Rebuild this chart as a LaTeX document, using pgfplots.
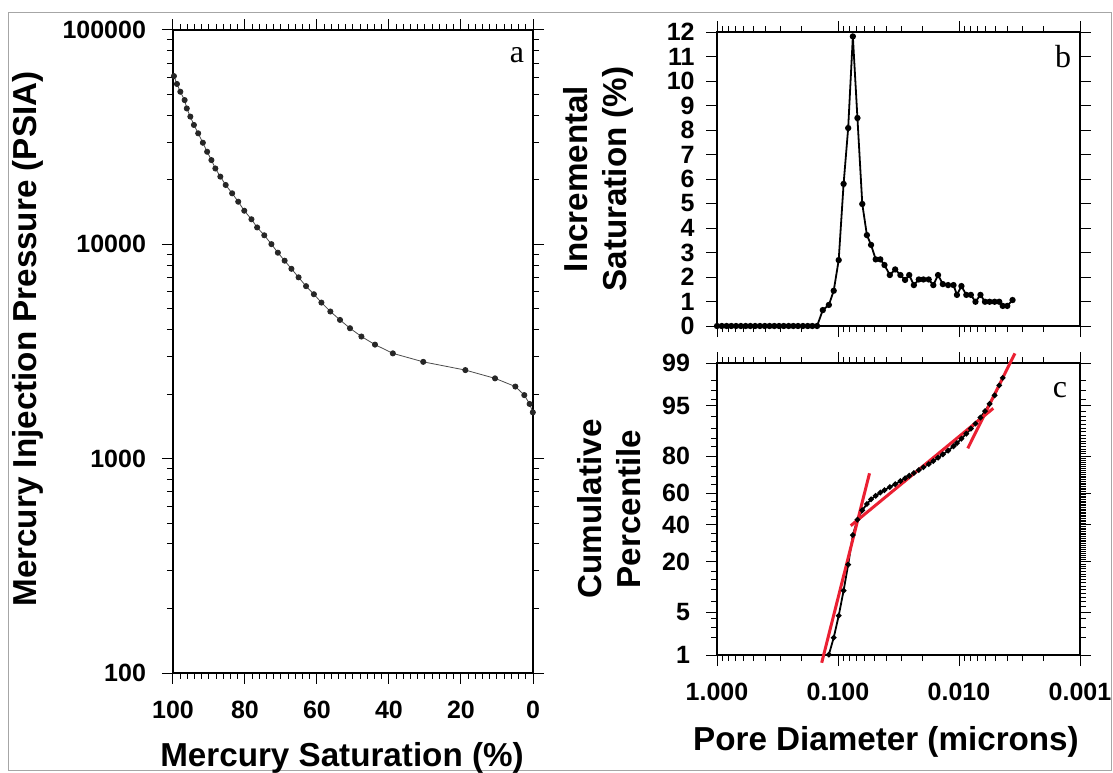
\documentclass[border=0pt]{standalone}
\usepackage{fontspec}
\setmainfont{Liberation Sans}
\newfontfamily\letterfont{Liberation Serif}
\usepackage{pgfplots}
\pgfplotsset{compat=1.18}
\definecolor{fitred}{RGB}{235,32,50}
\newcommand\tickfont{\fontsize{12.5}{12.5}\selectfont\bfseries}
\newcommand\labfont{\fontsize{16.6}{19.5}\selectfont\bfseries}

\pgfplotsset{
  panel/.style={scale only axis, tick align=outside,
    axis line style={line width=0.6pt},
    major tick length=5.5pt, minor tick length=3pt,
    every tick/.style={black, line width=0.5pt},
    tick label style={font=\tickfont},
    xticklabel shift=5pt, yticklabel shift=4.5pt,
    /pgf/number format/assume math mode=true,
    clip=false},
  porex/.style={xmin=0.001, xmax=1, x dir=reverse,
    xtick={0.001,0.01,0.1,1},
    minor xtick={0.002,0.003,0.004,0.005,0.006,0.007,0.008,0.009,
                 0.02,0.03,0.04,0.05,0.06,0.07,0.08,0.09,
                 0.2,0.3,0.4,0.5,0.6,0.7,0.8,0.9}},
}

\begin{document}
\begin{tikzpicture}
\path[use as bounding box] (0,0) rectangle (556.5pt,-386pt);
\draw[gray!70, line width=0.5pt] (4pt,-6pt) rectangle (555.5pt,-385pt);

% panel a: capillary pressure curve
\begin{axis}[panel, at={(86.5pt,-336.5pt)}, anchor=south west,
  width=180pt, height=321.5pt,
  xmin=0, xmax=100, x dir=reverse,
  xtick={0,20,40,60,80,100}, xticklabels={0,20,40,60,80,100},
  minor x tick num=9,
  ymode=log, ymin=100, ymax=100000,
  ytick={100,1000,10000,100000}, yticklabels={100,1000,10000,100000},
  minor ytick={200,300,400,500,600,700,800,900,2000,3000,4000,5000,6000,7000,8000,9000,
               20000,30000,40000,50000,60000,70000,80000,90000}]
\addplot[black!70, line width=0.4pt, mark=*, mark size=1.3pt,
  mark options={fill=black!85, draw=black!85}] coordinates {
  (99.74,60950) (98.9,56000) (97.96,51520) (96.77,47100) (96.17,43050) (95.18,39450)
  (94.19,36060) (93.00,32960) (91.71,29790) (90.52,27040) (89.33,24720)
  (88.23,22590) (86.85,20700) (85.36,18920) (83.57,17300) (81.88,15810)
  (80.20,14350) (78.21,13090) (76.63,11990) (74.64,11020) (72.66,10020)
  (70.87,9140) (68.99,8390) (67.10,7690) (65.12,7015) (63.04,6380)
  (60.86,5850) (58.77,5350) (56.29,4860) (53.61,4440) (50.83,4060)
  (47.66,3715) (43.89,3405) (38.93,3100) (30.49,2830) (18.79,2590)
  (10.55,2370) (4.90,2170) (2.42,1980) (0.94,1800) (0.05,1645)
};
\end{axis}

% panel b: incremental saturation
\begin{axis}[panel, xmode=log, porex, at={(358.5pt,-163pt)}, anchor=south west,
  width=181.5pt, height=147pt,
  xticklabels={},
  ymin=0, ymax=12, ytick={0,1,...,12},
  yticklabels={0,1,2,3,4,5,6,7,8,9,10,11,12},
  yticklabel style={inner sep=1pt}]
\addplot[black, line width=0.9pt, mark=*, mark size=1.1pt] coordinates {
  (1.000,0) (0.913,0) (0.834,0) (0.762,0) (0.696,0) (0.635,0) (0.580,0)
  (0.530,0) (0.484,0) (0.442,0) (0.403,0) (0.368,0) (0.336,0) (0.307,0)
  (0.281,0) (0.256,0) (0.234,0) (0.214,0) (0.195,0) (0.178,0) (0.163,0)
  (0.149,0)
  (0.1336,0.65) (0.119,0.86) (0.1085,1.44) (0.0987,2.69) (0.0899,5.80)
  (0.0824,8.08) (0.0754,11.82) (0.0691,8.49) (0.0630,4.98) (0.0577,3.71)
  (0.0533,3.31) (0.0488,2.72) (0.0447,2.72) (0.0413,2.49) (0.0373,2.08)
  (0.0337,2.31) (0.0305,2.08) (0.0279,1.88) (0.0258,2.08) (0.0236,1.67)
  (0.0215,1.90) (0.0197,1.90) (0.0178,1.90) (0.0163,1.67) (0.0149,2.08)
  (0.0136,1.71) (0.0123,1.67) (0.0111,1.67) (0.0104,1.27) (0.00955,1.63)
  (0.00870,1.27) (0.00798,1.27) (0.00731,0.99) (0.00665,1.27) (0.00610,0.99)
  (0.00559,0.99) (0.00508,0.99) (0.00465,0.99) (0.00435,0.82) (0.00399,0.82)
  (0.00361,1.06)
};
\end{axis}

% panel c: cumulative percentile (probability scale, y = normal quantile)
\begin{axis}[panel, xmode=log, porex, at={(358.5pt,-327.5pt)}, anchor=south west,
  width=181.5pt, height=146pt,
  xticklabels={1.000,0.100,0.010,0.001},
  xtick={1,0.1,0.01,0.001},
  ymin=-2.326, ymax=2.326, ytick pos=left,
  ytick={-2.326,-1.645,-0.842,-0.253,0.253,0.842,1.645,2.326},
  yticklabels={1,5,20,40,60,80,95,99},
  minor ytick={-2.054,-1.881,-1.751,-1.476,-1.282,-1.126,-0.994,
    -0.674,-0.524,-0.385,-0.126,0,0.126,0.385,0.524,0.674,
    0.994,1.126,1.282,1.476,1.751,1.881,2.054}]
\addplot[black, line width=0.9pt, mark=*, mark size=0.9pt] coordinates {
  (0.119,-2.32) (0.1085,-2.05) (0.0987,-1.70) (0.0899,-1.30) (0.0824,-0.885)
  (0.0754,-0.415) (0.0691,-0.17) (0.0630,-0.02) (0.0577,0.08) (0.0533,0.155)
  (0.0488,0.21) (0.0447,0.263) (0.0413,0.30) (0.0373,0.35) (0.0337,0.395)
  (0.0305,0.445) (0.0279,0.49) (0.0258,0.53) (0.0236,0.574) (0.0215,0.62)
  (0.0197,0.665) (0.0178,0.715) (0.0163,0.764) (0.0149,0.818) (0.0136,0.87)
  (0.0123,0.93) (0.0111,1.00) (0.0104,1.05) (0.00955,1.12) (0.00870,1.20)
  (0.00798,1.28) (0.00731,1.36) (0.00665,1.457) (0.00610,1.56) (0.00559,1.675)
  (0.00508,1.81) (0.00465,1.97) (0.00435,2.09)
};
\addplot[fitred, line width=1.5pt] coordinates {(0.1364,-2.45) (0.0549,0.569)};
\addplot[fitred, line width=1.5pt] coordinates {(0.0785,-0.266) (0.00521,1.604)};
\addplot[fitred, line width=1.5pt] coordinates {(0.00846,0.967) (0.00345,2.48)};
\end{axis}

% dense percentile ticks on the right side of panel c
\begin{axis}[panel, xmode=log, porex, at={(358.5pt,-327.5pt)}, anchor=south west,
  width=181.5pt, height=146pt,
  axis x line=none, axis y line*=right,
  ymin=-2.326, ymax=2.326, yticklabels={},
  ytick={-2.326,-1.645,-0.842,-0.253,0.253,0.842,1.645,2.326},
  minor ytick={-2.054,-1.881,-1.751,-1.555,-1.476,-1.405,-1.341,-1.282,-1.227,
    -1.175,-1.126,-1.080,-1.036,-0.994,-0.954,-0.915,-0.878,-0.806,-0.772,
    -0.739,-0.706,-0.674,-0.643,-0.613,-0.583,-0.553,-0.524,-0.496,-0.468,
    -0.440,-0.412,-0.385,-0.358,-0.332,-0.305,-0.279,-0.228,-0.202,-0.176,
    -0.151,-0.126,-0.100,-0.075,-0.050,-0.025,0,0.025,0.050,0.075,0.100,
    0.126,0.151,0.176,0.202,0.228,0.279,0.305,0.332,0.358,0.385,0.412,
    0.440,0.468,0.496,0.524,0.553,0.583,0.613,0.643,0.674,0.706,0.739,
    0.772,0.806,0.878,0.915,0.954,0.994,1.036,1.080,1.126,1.175,1.227,
    1.282,1.341,1.405,1.476,1.555,1.751,1.881,2.054}]
\addplot[draw=none] coordinates {(0.1,0)};
\end{axis}

% labels
\node[rotate=90, font=\labfont] at (14pt,-169.5pt) {Mercury Injection Pressure (PSIA)};
\node[anchor=base, font=\labfont] at (171pt,-383.3pt) {Mercury Saturation (\%)};
\node[rotate=90, font=\labfont, align=center] at (299pt,-89.5pt) {Incremental\\Saturation (\%)};
\node[rotate=90, font=\labfont, align=center, text depth=0pt] at (304.5pt,-254.5pt) {Cumulative\\Percentile};
\node[anchor=base, font=\labfont] at (443pt,-375pt) {Pore Diameter (microns)};
\node[anchor=base, font=\fontsize{16}{16}\letterfont] at (258.5pt,-31pt) {a};
\node[anchor=base, font=\fontsize{16}{16}\letterfont] at (531.5pt,-33.5pt) {b};
\node[anchor=base, font=\fontsize{16}{16}\letterfont] at (530pt,-198.5pt) {c};
\end{tikzpicture}
\end{document}
